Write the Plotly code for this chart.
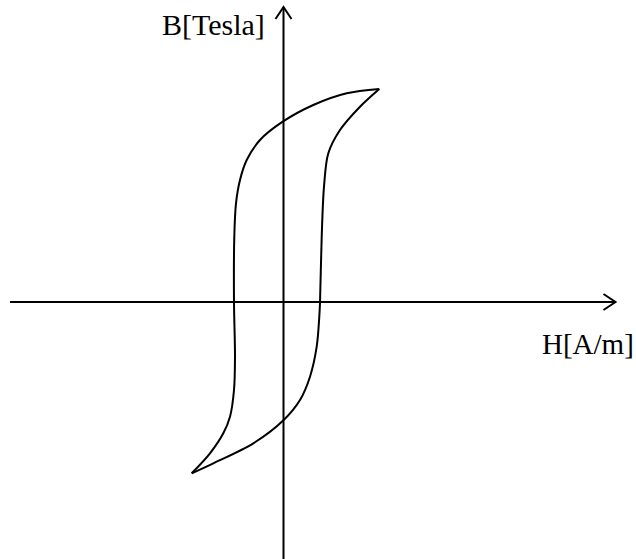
import plotly.graph_objects as go

# origin of the axes in the picture (pixels), used to turn read-off points into H/B values
g_x0 = 283.5
g_y0 = 302

g_down_x = [379.3, 346.7, 313.3, 282.7, 260.0, 246.7, 240.0, 236.0, 234.3, 234.0, 235.0, 234.0, 230.0, 223.3, 210.0, 191.7]
g_down_y = [89.0, 93.3, 105.0, 121.7, 140.0, 160.0, 180.0, 203.3, 236.7, 302.7, 356.7, 390.0, 416.7, 433.3, 453.3, 473.3]

# ascending branch, lower-left tip -> upper-right tip
g_up_x = [191.7, 213.3, 253.3, 283.7, 300.0, 310.0, 316.7, 319.3, 320.0, 321.7, 324.0, 328.3, 340.0, 360.0, 379.3]
g_up_y = [473.3, 463.3, 443.3, 420.0, 400.0, 376.7, 346.7, 316.7, 303.0, 236.7, 186.7, 153.3, 130.0, 106.7, 89.0]

g_h_down = [x - g_x0 for x in g_down_x]
g_b_down = [g_y0 - y for y in g_down_y]
g_h_up = [x - g_x0 for x in g_up_x]
g_b_up = [g_y0 - y for y in g_up_y]

g_w, g_h = 636, 559
g_xr = [-g_x0, g_w - g_x0]
g_yr = [g_y0 - g_h, g_y0]

fig = go.Figure()
for l_hx, l_by in [(g_h_down, g_b_down), (g_h_up, g_b_up)]:
    fig.add_trace(go.Scatter(x=l_hx, y=l_by, mode='lines',
                             line=dict(color='black', width=2, shape='spline', smoothing=0.9),
                             hoverinfo='skip'))

# axes with open arrow heads
l_line = dict(color='black', width=2)
l_hx_end, l_bx_end = 332, 295
l_ah, l_aw = 12, 8
fig.add_shape(type='line', x0=-273.5, y0=0, x1=l_hx_end, y1=0, line=l_line)
fig.add_shape(type='line', x0=0, y0=g_yr[0], x1=0, y1=l_bx_end, line=l_line)
fig.add_shape(type='path', path=f'M {l_hx_end - l_ah},{l_aw} L {l_hx_end},0 L {l_hx_end - l_ah},{-l_aw}', line=l_line)
fig.add_shape(type='path', path=f'M {-l_aw},{l_bx_end - l_ah} L 0,{l_bx_end} L {l_aw},{l_bx_end - l_ah}', line=l_line)

l_font = dict(family='Liberation Serif, Times New Roman, serif', size=30, color='black')
fig.add_annotation(x=267 - g_x0, y=g_y0 - 43, text='B[Tesla]', showarrow=False,
                   xanchor='right', yanchor='bottom', font=l_font)
fig.add_annotation(x=540 - g_x0, y=g_y0 - 362, text='H[A/m]', showarrow=False,
                   xanchor='left', yanchor='bottom', font=dict(l_font, size=29))

fig.update_layout(width=g_w, height=g_h, margin=dict(l=0, r=0, t=0, b=0),
                  paper_bgcolor='white', plot_bgcolor='white', showlegend=False,
                  xaxis=dict(range=g_xr, visible=False, fixedrange=True),
                  yaxis=dict(range=g_yr, visible=False, fixedrange=True))
fig.write_html('out.html', config={'displayModeBar': False},
               post_script="document.body.style.margin='0';document.body.style.overflow='hidden';")
